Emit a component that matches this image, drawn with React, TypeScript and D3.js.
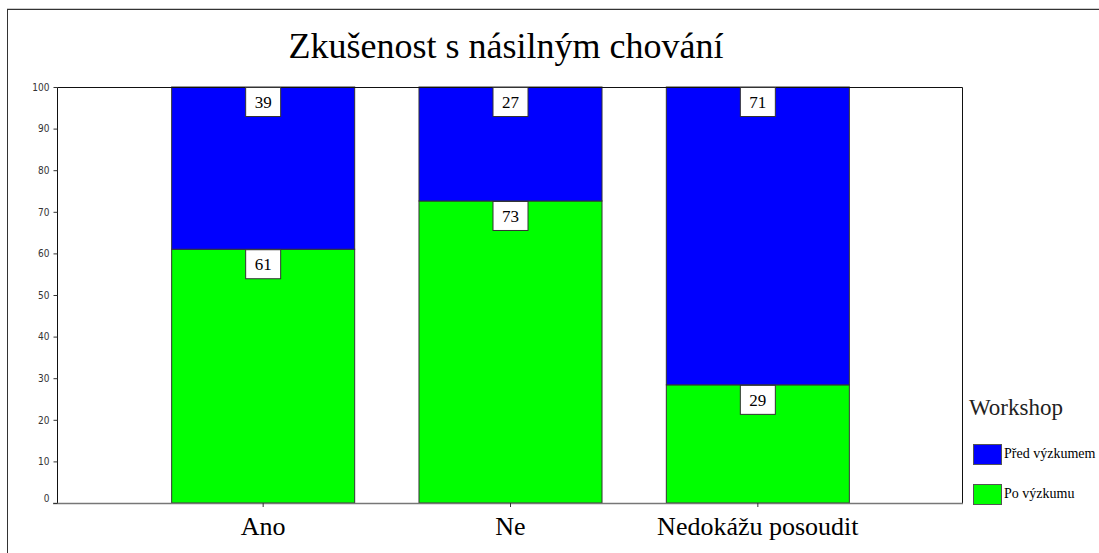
import React, { useEffect, useRef } from "react";
import * as d3 from "d3";

// categories and series
const categories = ["Ano", "Ne", "Nedokážu posoudit"];
const poValues = [61, 72.6, 28.4]; // Po výzkumu (green, bottom)
const predValues = [39, 27.4, 71.6]; // Před výzkumem (blue, top)
const poLabels = ["61", "73", "29"];
const predLabels = ["39", "27", "71"];
const yTicks = [0, 10, 20, 30, 40, 50, 60, 70, 80, 90, 100];
const seriesNames = ["Před výzkumem", "Po výzkumu"];
const seriesColors = ["#0000ff", "#00ff00"];

const W = 1099;
const H = 553;
const SERIF = "'Liberation Serif', 'Times New Roman', serif";

const App = () => {
  const svgRef = useRef<SVGSVGElement | null>(null);

  useEffect(() => {
    const svg = d3.select(svgRef.current);
    svg.selectAll("*").remove();

    const left = 57;
    const right = 962;
    const top = 87;
    const bottom = 503;

    const x = d3
      .scaleBand()
      .domain(categories)
      .range([139, 881])
      .paddingInner(0.26)
      .paddingOuter(0.13);

    const y = d3.scaleLinear().domain([0, 100]).range([bottom, top]);

    // outer frame
    svg.append("line").attr("x1", 7).attr("x2", W).attr("y1", 8.5).attr("y2", 8.5)
      .attr("stroke", "#ccc").attr("stroke-width", 1);
    svg.append("line").attr("x1", 7).attr("x2", W).attr("y1", 9.5).attr("y2", 9.5)
      .attr("stroke", "#333").attr("stroke-width", 1);
    svg.append("line").attr("x1", 7.5).attr("x2", 7.5).attr("y1", 9).attr("y2", H)
      .attr("stroke", "#333").attr("stroke-width", 1);

    // title
    svg.append("text")
      .attr("x", 506)
      .attr("y", 58)
      .attr("text-anchor", "middle")
      .style("font-family", SERIF)
      .style("font-size", "36px")
      .style("fill", "#000")
      .text("Zkušenost s násilným chování");

    // bars
    const stacks = categories.map((c, i) => ({
      cat: c,
      po: poValues[i],
      pred: predValues[i],
      poLabel: poLabels[i],
      predLabel: predLabels[i],
    }));

    const g = svg.append("g");
    g.selectAll("rect.po")
      .data(stacks)
      .enter()
      .append("rect")
      .attr("x", (d) => x(d.cat)! + 0.5)
      .attr("y", (d) => y(d.po))
      .attr("width", x.bandwidth())
      .attr("height", (d) => bottom - y(d.po))
      .attr("fill", seriesColors[1])
      .attr("stroke", "#333")
      .attr("stroke-width", 1);

    g.selectAll("rect.pred")
      .data(stacks)
      .enter()
      .append("rect")
      .attr("x", (d) => x(d.cat)! + 0.5)
      .attr("y", (d) => y(d.po + d.pred))
      .attr("width", x.bandwidth())
      .attr("height", (d) => y(d.po) - y(d.po + d.pred))
      .attr("fill", seriesColors[0])
      .attr("stroke", "#333")
      .attr("stroke-width", 1);

    // plot frame
    svg.append("path")
      .attr("d", `M${left + 0.5},${bottom} V${top + 0.5} H${right + 0.5} V${bottom}`)
      .attr("fill", "none")
      .attr("stroke", "#111")
      .attr("stroke-width", 1);
    svg.append("line")
      .attr("x1", 53).attr("x2", right + 1)
      .attr("y1", bottom + 0.5).attr("y2", bottom + 0.5)
      .attr("stroke", "#777").attr("stroke-width", 1.5);

    // y axis
    const yAxis = svg.append("g").attr("transform", `translate(${left + 0.5},0)`)
      .call(d3.axisLeft(y).tickValues(yTicks).tickSize(4).tickPadding(4));
    yAxis.select(".domain").remove();
    yAxis.selectAll("line").attr("stroke", "#333");
    yAxis.selectAll("text")
      .style("font-family", "'DejaVu Sans Condensed', 'Liberation Sans Narrow', sans-serif")
      .style("font-size", "10px")
      .style("fill", "#333")
      .attr("dy", (d: any) => (d === 0 ? "-0.15em" : "0.32em"));

    // x axis
    const xAxis = svg.append("g").attr("transform", `translate(0.5,${bottom})`)
      .call(d3.axisBottom(x).tickSize(4).tickPadding(10));
    xAxis.select(".domain").remove();
    xAxis.selectAll("line").attr("stroke", "#333");
    xAxis.selectAll("text")
      .style("font-family", SERIF)
      .style("font-size", "26px")
      .style("fill", "#000");

    // value labels
    const addLabel = (cx: number, ty: number, txt: string) => {
      svg.append("rect")
        .attr("x", cx - 17.5)
        .attr("y", ty + 0.5)
        .attr("width", 35)
        .attr("height", 29)
        .attr("fill", "#fff")
        .attr("stroke", "#333")
        .attr("stroke-width", 1);
      svg.append("text")
        .attr("x", cx)
        .attr("y", ty + 21)
        .attr("text-anchor", "middle")
        .style("font-family", SERIF)
        .style("font-size", "17px")
        .style("fill", "#000")
        .text(txt);
    };
    stacks.forEach((d) => {
      const cx = x(d.cat)! + x.bandwidth() / 2 + 0.5;
      addLabel(cx, y(d.po + d.pred), d.predLabel);
      addLabel(cx, y(d.po), d.poLabel);
    });

    // legend
    svg.append("text")
      .attr("x", 969)
      .attr("y", 415)
      .style("font-family", SERIF)
      .style("font-size", "23px")
      .style("fill", "#222")
      .text("Workshop");

    seriesNames.forEach((name, i) => {
      const ly = 444 + i * 40;
      svg.append("rect")
        .attr("x", 973.5)
        .attr("y", ly + 0.5)
        .attr("width", 28)
        .attr("height", 20)
        .attr("fill", seriesColors[i])
        .attr("stroke", "#555")
        .attr("stroke-width", 1);
      svg.append("text")
        .attr("x", 1004)
        .attr("y", ly + 14)
        .style("font-family", SERIF)
        .style("font-size", "14px")
        .style("fill", "#000")
        .text(name);
    });
  }, []);

  return (
    <svg
      ref={svgRef}
      width={W}
      height={H}
      style={{ position: "absolute", left: 0, top: 0, background: "#fff" }}
    />
  );
};

export default App;
